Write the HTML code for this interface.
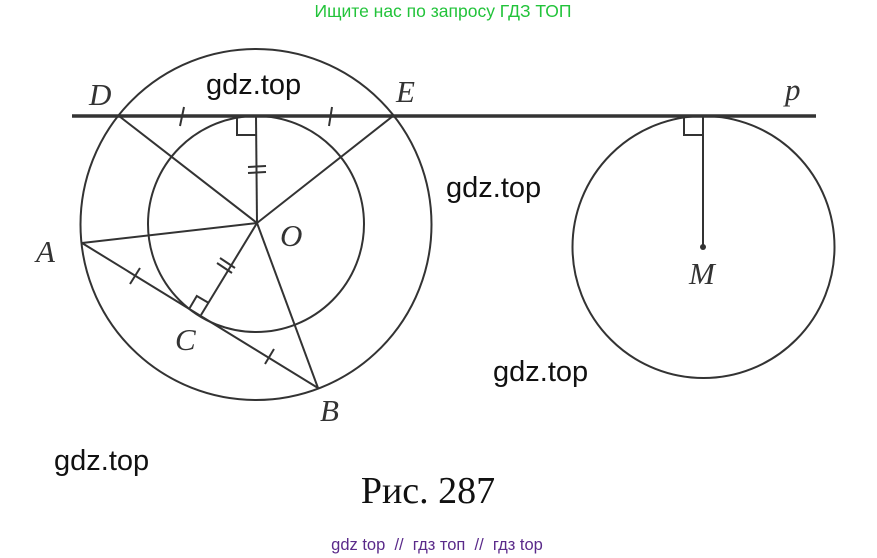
<!DOCTYPE html>
<html><head><meta charset="utf-8"><style>
html,body{margin:0;padding:0;background:#fff;width:877px;height:558px;overflow:hidden}
svg{display:block}
.l{font-family:"Liberation Serif",serif;font-style:italic;font-size:31px;fill:#333}
.w{font-family:"Liberation Sans",sans-serif;font-size:29px;fill:#111}
</style></head><body>
<svg width="877" height="558" viewBox="0 0 877 558" xmlns="http://www.w3.org/2000/svg">
<text x="443" y="17" text-anchor="middle" font-family="Liberation Sans,sans-serif" font-size="17.5" fill="#22c33a">Ищите нас по запросу ГДЗ ТОП</text>
<g stroke="#333" stroke-width="2" fill="none">
<circle cx="256" cy="224.5" r="175.5"/>
<circle cx="256" cy="224" r="108"/>
<circle cx="703.5" cy="247" r="131"/>
<line x1="119" y1="116" x2="257" y2="223"/>
<line x1="393" y1="116" x2="257" y2="223"/>
<line x1="256" y1="116" x2="257" y2="223"/>
<line x1="82" y1="243" x2="257" y2="223"/>
<line x1="257" y1="223" x2="318" y2="388"/>
<line x1="257" y1="223" x2="201" y2="315"/>
<line x1="82" y1="243" x2="318" y2="388"/>
<line x1="703" y1="116" x2="703" y2="247"/>
<polyline points="237,116 237,135 256,135"/>
<polyline points="684,116 684,135 703,135"/>
<polyline points="208.8,303 196.8,296 189.7,308"/>
<line x1="180" y1="126" x2="184" y2="107"/>
<line x1="329" y1="126" x2="332" y2="107"/>
<line x1="248" y1="167" x2="266" y2="166"/>
<line x1="248" y1="173" x2="266" y2="172"/>
<line x1="217" y1="263" x2="232" y2="273"/>
<line x1="220" y1="258" x2="235" y2="268"/>
<line x1="130" y1="284" x2="140" y2="268"/>
<line x1="265" y1="364" x2="274" y2="349"/>
</g>
<line x1="72" y1="116" x2="816" y2="116" stroke="#333" stroke-width="3.5"/>
<circle cx="703" cy="247" r="3" fill="#333"/>
<text class="l" x="89" y="105">D</text>
<text class="l" x="396" y="102">E</text>
<text class="l" x="785" y="100">p</text>
<text class="l" x="36" y="262">A</text>
<text class="l" x="280" y="246">O</text>
<text class="l" x="175" y="350">C</text>
<text class="l" x="320" y="421">B</text>
<text class="l" x="689" y="284">M</text>
<text class="w" x="206" y="94">gdz.top</text>
<text class="w" x="446" y="197">gdz.top</text>
<text class="w" x="493" y="381">gdz.top</text>
<text class="w" x="54" y="470">gdz.top</text>
<text x="428" y="503" text-anchor="middle" font-family="Liberation Serif,serif" font-size="38" fill="#111">Рис. 287</text>
<text x="437" y="550" text-anchor="middle" font-family="Liberation Sans,sans-serif" font-size="16.5" fill="#5a2a8a" style="white-space:pre" xml:space="preserve">gdz top  //  гдз топ  //  гдз top</text>
</svg>
</body></html>
